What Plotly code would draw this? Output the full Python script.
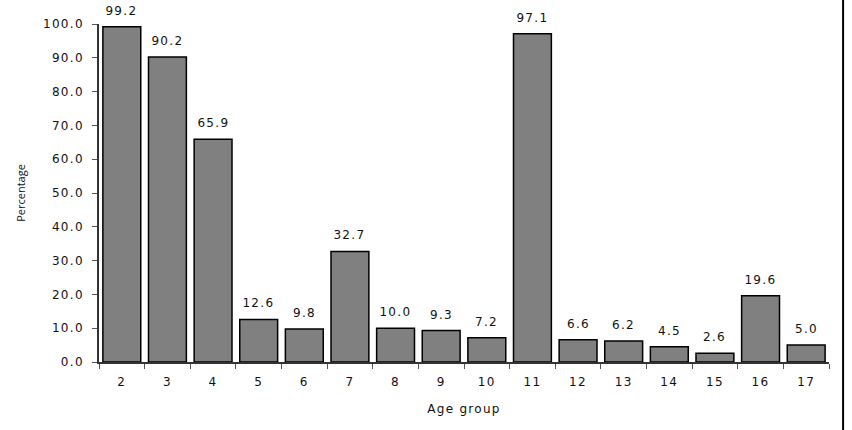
import plotly.graph_objects as go

age_groups = ["2", "3", "4", "5", "6", "7", "8", "9", "10", "11", "12", "13", "14", "15", "16", "17"]
percentages = [99.2, 90.2, 65.9, 12.6, 9.8, 32.7, 10.0, 9.3, 7.2, 97.1, 6.6, 6.2, 4.5, 2.6, 19.6, 5.0]
y_ticks = [0, 10, 20, 30, 40, 50, 60, 70, 80, 90, 100]

fig = go.Figure(go.Bar(
    x=age_groups, y=percentages,
    marker=dict(color="#808080", line=dict(color="#000000", width=1.5)),
    cliponaxis=False,
))

# category axis: annotations placed by category index
for idx, val in enumerate(percentages):
    fig.add_annotation(x=idx, y=val, text=f"{val:.1f}", showarrow=False,
                       yanchor="bottom", yshift=7,
                       font=dict(family="DejaVu Sans", size=12, color="#111111"))

fig.update_layout(
    width=852, height=430,
    margin=dict(l=99, r=23, t=24, b=68),
    plot_bgcolor="white", paper_bgcolor="white",
    bargap=0.17,
    showlegend=False,
    font=dict(family="DejaVu Sans", size=12, color="#111111"),
    shapes=[dict(type="line", xref="paper", yref="paper", x0=1.0193, x1=1.0193, y0=-0.25, y1=1.12,
                 line=dict(color="#000000", width=2))],
)
fig.update_xaxes(
    type="category",
    range=[-0.5, len(age_groups) - 0.5],
    showline=True, linecolor="#333333", linewidth=1.5,
    ticks="outside", tickson="boundaries", ticklen=5, tickcolor="#555555",
    ticklabelstandoff=8,
    title=dict(text="Age group", font=dict(size=12), standoff=16),
    tickfont=dict(size=12),
)
fig.update_yaxes(
    range=[0, 100],
    tickvals=y_ticks, tickformat=".1f",
    showline=True, linecolor="#333333", linewidth=1.5,
    ticks="outside", ticklen=5, tickcolor="#555555",
    ticklabelstandoff=6,
    showgrid=False, zeroline=False,
    title=dict(text="Percentage", font=dict(family="Open Sans", size=11), standoff=22),
    tickfont=dict(size=12),
)

post = """
var style = document.createElement('style');
style.textContent = '.xtick text, .ytick text, .annotation-text, .xtitle { letter-spacing: 1.3px; }';
document.head.appendChild(style);
"""
fig.write_html("out.html", post_script=post)
